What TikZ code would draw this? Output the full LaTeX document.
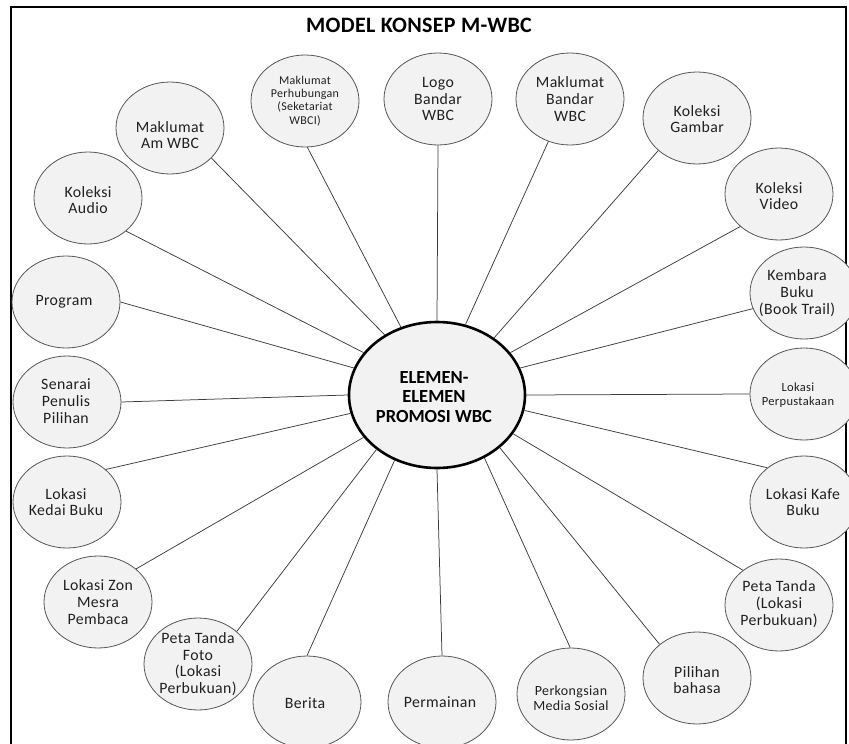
\documentclass[tikz,border=0pt]{standalone}
\usepackage{fontspec}
\setmainfont{Carlito}
\newfontfamily\spacedfont[LetterSpace=2.5]{Carlito}
\newfontfamily\titlefont[LetterSpace=1.5]{Carlito}
\usetikzlibrary{shapes.geometric}
\definecolor{bubfill}{HTML}{F2F2F2}
\definecolor{bubline}{HTML}{555555}
\definecolor{connc}{HTML}{3C3C3C}
\definecolor{txtc}{HTML}{202020}
\begin{document}
\begin{tikzpicture}[x=1pt,y=-1pt,
  bub/.style={ellipse, draw=bubline, fill=bubfill, line width=0.8pt,
    minimum width=108pt, minimum height=92pt, inner sep=0pt},
  txt/.style={align=center, text=txtc, inner sep=0pt,
    font=\spacedfont\fontsize{15.8}{16.7}\selectfont},
  smalltxt/.style={align=center, text=txtc, inner sep=0pt,
    font=\spacedfont\fontsize{12}{13.3}\selectfont},
  conn/.style={draw=connc, line width=0.75pt}]
\useasboundingbox (0,0) rectangle (849,744);
% frame
\draw[line width=1.3pt] (11,744) -- (11,7) -- (846,7) -- (846,744);
% title
\node[font=\titlefont\bfseries\fontsize{22}{24}\selectfont, text=black] (title) at (419,25) {MODEL KONSEP M-WBC};
% centre
\node[ellipse, draw=black, line width=2.6pt, fill=bubfill, minimum width=176pt,
  minimum height=146pt, inner sep=0pt] (C) at (437,395) {};
\node[align=center, text=black, inner sep=0pt, font=\bfseries\fontsize{18.5}{19.5}\selectfont]
  (Ct) at (434,397) {ELEMEN-\\ELEMEN\\PROMOSI WBC};
% outer bubbles
\node[bub] (a) at (88,198) {};   \node[txt] (at) at (88,200) {Koleksi\\Audio};
\node[bub] (b) at (170,128) {};  \node[txt] (bt) at (170,135) {Maklumat\\Am WBC};
\node[bub] (c) at (305,101) {};  \node[smalltxt] (ct) at (305,101) {Maklumat\\Perhubungan\\(Seketariat\\WBCI)};
\node[bub] (d) at (438,99) {};   \node[txt] (dt) at (438,99) {Logo\\Bandar\\WBC};
\node[bub] (e) at (570,99) {};   \node[txt] (et) at (570,99) {Maklumat\\Bandar\\WBC};
\node[bub] (f) at (697,118) {};  \node[txt] (ft) at (697,119) {Koleksi\\Gambar};
\node[bub] (g) at (779,194) {};  \node[txt] (gt) at (779,196) {Koleksi\\Video};
\node[bub] (h) at (804,293) {};  \node[txt] (ht) at (797,293) {Kembara\\Buku\\(Book Trail)};
\node[bub] (i) at (804,394) {};  \node[smalltxt, font=\spacedfont\fontsize{12.5}{13.5}\selectfont] (it) at (798,395) {Lokasi\\Perpustakaan};
\node[bub] (j) at (804,502) {};  \node[txt] (jt) at (803,502) {Lokasi Kafe\\Buku};
\node[bub] (k) at (779,605) {};  \node[txt] (kt) at (779,604) {Peta Tanda\\(Lokasi\\Perbukuan)};
\node[bub] (l) at (697,678) {};  \node[txt] (lt) at (697,680) {Pilihan\\bahasa};
\node[bub] (m) at (571,694) {};  \node[txt, font=\spacedfont\fontsize{14}{15.5}\selectfont] (mt) at (571,698) {Perkongsian\\Media Sosial};
\node[bub] (n) at (442,702) {};  \node[txt] (nt) at (440,702) {Permainan};
\node[bub] (o) at (307,702) {};  \node[txt] (ot) at (305,703) {Berita};
\node[bub] (p) at (198,664) {};  \node[txt] (pt) at (198,664) {Peta Tanda\\Foto\\(Lokasi\\Perbukuan)};
\node[bub] (q) at (98,602) {};   \node[txt] (qt) at (98,602) {Lokasi Zon\\Mesra\\Pembaca};
\node[bub] (r) at (67,502) {};   \node[txt] (rt) at (66,502) {Lokasi\\Kedai Buku};
\node[bub] (s) at (67,402) {};   \node[txt] (st) at (66,401) {Senarai\\Penulis\\Pilihan};
\node[bub] (t) at (66,302) {};   \node[txt] (tt) at (64,302) {Program};
% connectors
\draw[conn] (a.-41)  -- (C.150);
\draw[conn] (b.-36)  -- (C.131.6);
\draw[conn] (c.-87)  -- (C.118.9);
\draw[conn] (d.-90)  -- (C.90);
\draw[conn] (e.-117) -- (C.68.1);
\draw[conn] (f.-140) -- (C.45);
\draw[conn] (g.-140) -- (C.30.5);
\draw[conn] (h.-163) -- (C.18.2);
\draw[conn] (i.180)  -- (C.0);
\draw[conn] (j.137)  -- (C.-10.9);
\draw[conn] (k.136)  -- (C.-27.8);
\draw[conn] (l.138)  -- (C.-40.1);
\draw[conn] (m.91)   -- (C.-53.6);
\draw[conn] (n.90)   -- (C.-90);
\draw[conn] (o.90)   -- (C.-123.9);
\draw[conn] (p.40)   -- (C.-138.3);
\draw[conn] (q.41)   -- (C.-150.8);
\draw[conn] (r.40)   -- (C.-168.9);
\draw[conn] (s.0)    -- (C.180);
\draw[conn] (t.0)    -- (C.162.8);
\end{tikzpicture}
\end{document}
